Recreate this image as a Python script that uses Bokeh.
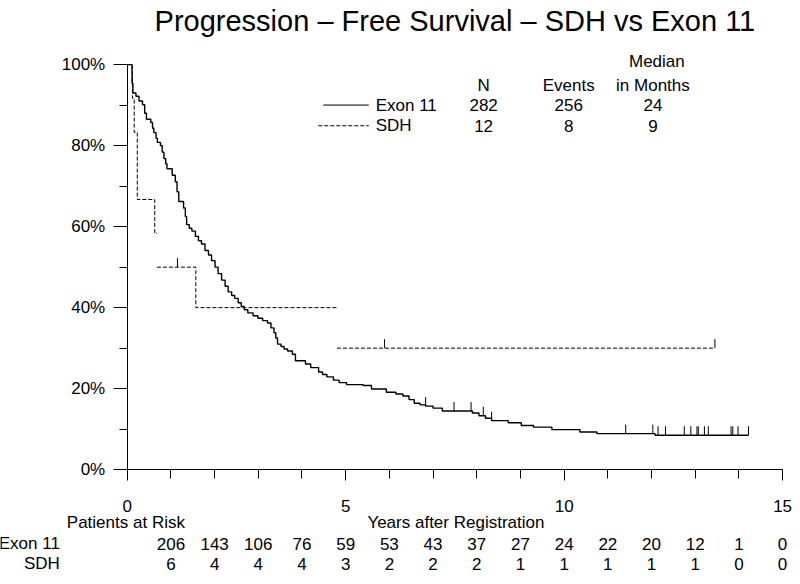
import bisect
from bokeh.plotting import figure
from bokeh.models import Range1d, Label, FixedTicker, PrintfTickFormatter
from bokeh.embed import file_html
from bokeh.resources import INLINE

FONT = "Liberation Sans"

# ---------------- data ----------------
exon_t = [0, 0.11, 0.13, 0.20, 0.27, 0.35, 0.40, 0.44, 0.54, 0.58, 0.61, 0.66, 0.69, 0.76,
          0.80, 0.84, 0.88, 0.91, 1.03, 1.10, 1.14, 1.18, 1.29, 1.33, 1.36, 1.42, 1.48,
          1.56, 1.63, 1.70, 1.78, 1.86, 1.93, 2.01, 2.08, 2.16, 2.24, 2.31, 2.39, 2.46,
          2.54, 2.61, 2.68, 2.76, 2.88, 2.99, 3.10, 3.21, 3.29, 3.36, 3.40, 3.44, 3.52,
          3.59, 3.67, 3.78, 3.85, 4.08, 4.20, 4.38, 4.47, 4.57, 4.72, 4.85, 5.02, 5.40,
          5.59, 5.93, 6.15, 6.31, 6.45, 6.57, 6.70, 6.83, 7.00, 7.21, 7.90, 8.05, 8.20,
          8.34, 8.72, 9.02, 9.30, 9.72, 10.36, 10.75, 12.08]
exon_s = [100, 95.4, 93.0, 92.2, 91.0, 90.1, 88.0, 86.5, 85.7, 84.3, 83.2, 81.8, 80.8, 80.0,
          78.4, 76.8, 75.5, 74.3, 72.7, 71.1, 68.6, 66.2, 64.6, 62.5, 60.5, 59.6, 58.9,
          57.6, 56.5, 55.7, 54.1, 53.0, 51.6, 50.0, 48.4, 46.8, 45.3, 43.9, 43.0, 42.3,
          41.2, 40.3, 39.5, 38.7, 38.0, 37.4, 36.8, 36.2, 35.0, 33.8, 32.5, 31.0, 30.4,
          29.8, 29.3, 28.5, 26.9, 26.1, 25.2, 24.1, 23.5, 22.9, 22.1, 21.5, 21.0, 20.8,
          19.9, 19.1, 18.7, 18.2, 17.3, 16.4, 16.0, 15.7, 15.2, 14.5, 14.0, 13.3, 12.7,
          12.1, 11.6, 10.9, 10.5, 9.9, 9.3, 8.9, 8.5]
exon_end = 14.22
exon_cens = [6.83, 7.48, 7.87, 8.15, 8.34, 11.41, 12.03, 12.15, 12.32, 12.75, 12.90,
             13.04, 13.07, 13.21, 13.30, 13.82, 13.86, 13.98, 14.22]

sdh_t = [0, 0.12, 0.16, 0.23, 0.63, 0.68, 1.57, 4.80]
sdh_s = [100, 91.7, 83.3, 66.7, 58.3, 50.0, 40.0, 30.0]
sdh_drop_drawn = [True, True, True, True, False, True, False]
sdh_end = 13.45
sdh_cens = [1.15, 5.89, 13.45]

years = list(range(1, 16))
exon_risk = [206, 143, 106, 76, 59, 53, 43, 37, 27, 24, 22, 20, 12, 1, 0]
sdh_risk = [6, 4, 4, 4, 3, 2, 2, 2, 1, 1, 1, 1, 1, 0, 0]

legend_groups = ["Exon 11", "SDH"]
legend_n = [282, 12]
legend_events = [256, 8]
legend_median = [24, 9]

x_ticks = [0, 5, 10, 15]
y_ticks = [0, 20, 40, 60, 80, 100]

# ---------------- layout (positions given in reference pixels) ----------------
W, H = 792, 576
SX, SY = W / 800.0, H / 584.0
FX0, FX15 = 128 * SX, 790 * SX
FY0, FY100 = 475.7 * SY, 65 * SY
KX = (FX15 - FX0) / 15.0
KY = (FY0 - FY100) / 100.0


def dx(rx):
    return (rx * SX - FX0) / KX


def dy(ry):
    return (FY0 - ry * SY) / KY


TICK = 9 / KY

p = figure(width=W, height=H, min_border=0,
           x_range=Range1d(dx(0), dx(800)), y_range=Range1d(dy(584), dy(0)),
           output_backend="svg", toolbar_location=None)
p.outline_line_color = None
p.background_fill_color = "white"
p.border_fill_color = "white"
p.xgrid.visible = False
p.ygrid.visible = False

# Exon 11 curve
p.step(x=exon_t + [exon_end], y=exon_s + [exon_s[-1]], mode="after",
       line_color="black", line_width=1.4)


def surv_at(ts, ss, t):
    i = bisect.bisect_right(ts, t) - 1
    return ss[max(i, 0)]


ec_y = [surv_at(exon_t, exon_s, t) for t in exon_cens]
p.segment(x0=exon_cens, y0=ec_y, x1=exon_cens, y1=[v + TICK for v in ec_y],
          line_color="black", line_width=1)

# SDH curve (dashed step, with the hidden drops of the picture)
xs, ys = [sdh_t[0]], [sdh_s[0]]
for i in range(1, len(sdh_t)):
    xs.append(sdh_t[i]); ys.append(sdh_s[i - 1])
    if sdh_drop_drawn[i - 1]:
        xs.append(sdh_t[i]); ys.append(sdh_s[i])
    else:
        xs.append(float("nan")); ys.append(float("nan"))
        xs.append(sdh_t[i]); ys.append(sdh_s[i])
xs.append(sdh_end); ys.append(sdh_s[-1])
p.line(x=xs, y=ys, line_color="black", line_width=1, line_dash="4 2")

sc_y = [surv_at(sdh_t, sdh_s, t) for t in sdh_cens]
p.segment(x0=sdh_cens, y0=sc_y, x1=sdh_cens, y1=[v + TICK for v in sc_y],
          line_color="black", line_width=1)

# axes pinned at the data origin
xa = p.xaxis[0]
xa.fixed_location = 0
xa.ticker = FixedTicker(ticks=x_ticks, minor_ticks=list(range(0, 16)))
xa.bounds = (0, 15)
xa.axis_line_color = "black"
xa.major_tick_line_color = "black"
xa.minor_tick_line_color = "black"
xa.major_tick_out = 11
xa.major_tick_in = 0
xa.minor_tick_out = 9
xa.minor_tick_in = 0
xa.major_label_text_font = FONT
xa.major_label_text_font_size = "17px"
xa.major_label_text_color = "black"
xa.major_label_standoff = 19

ya = p.yaxis[0]
ya.fixed_location = 0
ya.ticker = FixedTicker(ticks=y_ticks, minor_ticks=[10, 30, 50, 70, 90])
ya.bounds = (0, 100)
ya.formatter = PrintfTickFormatter(format="%d%%")
ya.axis_line_color = "black"
ya.major_tick_line_color = "black"
ya.minor_tick_line_color = "black"
ya.major_tick_out = 14
ya.major_tick_in = 0
ya.minor_tick_out = 8
ya.minor_tick_in = 0
ya.major_label_text_font = FONT
ya.major_label_text_font_size = "17px"
ya.major_label_text_color = "black"
ya.major_label_standoff = 8


def lab(x, y, text, size="17px", align="center"):
    p.add_layout(Label(x=x, y=y, text=str(text), text_font=FONT, text_font_size=size,
                       text_align=align, text_baseline="middle", text_color="black"))


# title and axis caption
lab(dx(459), dy(21), "Progression \u2013 Free Survival \u2013 SDH vs Exon 11", size="29px")
lab(dx(460), dy(529), "Years after Registration")

# legend table
lab(dx(663), dy(62), "Median")
lab(dx(488), dy(86), "N")
lab(dx(574), dy(86), "Events")
lab(dx(659), dy(86), "in Months")
row_y = [106, 127]
row_dash = ["solid", "4 2"]
row_x0 = [326, 321]
for g, n, e, m, ry, dsh, x0 in zip(legend_groups, legend_n, legend_events, legend_median,
                                   row_y, row_dash, row_x0):
    p.line(x=[dx(x0), dx(372)], y=[dy(ry), dy(ry)], line_color="black", line_width=1,
           line_dash=dsh)
    lab(dx(379), dy(ry), g, align="left")
    lab(dx(488), dy(ry), n)
    lab(dx(574), dy(ry), e)
    lab(dx(659), dy(ry), m)

# patients at risk table
lab(dx(67), dy(529), "Patients at Risk", align="left")
for g, risk, ry in zip(legend_groups, [exon_risk, sdh_risk], [551, 571]):
    lab(dx(60), dy(ry), g, align="right")
    for yr, r in zip(years, risk):
        lab(yr, dy(ry), r)

open("out.html", "w").write(file_html(p, INLINE))
